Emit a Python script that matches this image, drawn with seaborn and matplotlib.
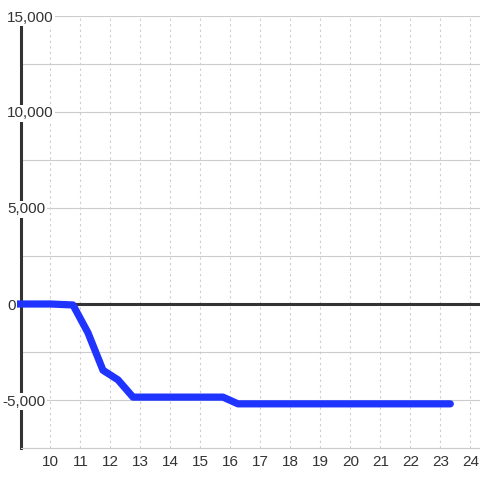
import matplotlib
matplotlib.use("Agg")
import matplotlib.pyplot as plt
import matplotlib.transforms as mtransforms
import seaborn as sns
from matplotlib.ticker import MultipleLocator

# data
hours = [8.88, 10.0, 10.75, 11.25, 11.75, 12.25, 12.75, 15.75, 16.25, 23.33]
values = [0, 0, -50, -1500, -3450, -3950, -4850, -4850, -5200, -5200]

x_ticks = list(range(10, 25))
y_labels = [15000, 10000, 5000, 0, -5000]

sns.set_theme(style="white")
plt.rcParams["font.family"] = ["Liberation Sans", "DejaVu Sans"]
plt.rcParams["axes.unicode_minus"] = False

fig = plt.figure(figsize=(4.8, 4.8), dpi=100)
ax = fig.add_axes([20.5 / 480, 32 / 480, 459.5 / 480, 432 / 480])

sns.lineplot(x=hours, y=values, sort=False, color="#1f35ff",
             linewidth=5.2, ax=ax, zorder=3, clip_on=False)
ax.axhline(0, color="#333333", linewidth=2.2, zorder=2)

ax.set_xlim(9, 24.32)
ax.set_ylim(-7500, 15000)

ax.set_xticks(x_ticks)
ax.yaxis.set_major_locator(MultipleLocator(2500))
ax.set_yticklabels([])

ax.grid(axis="y", which="major", color="#cccccc", linewidth=0.8)
ax.grid(axis="x", which="major", color="#cccccc", linewidth=0.8,
        linestyle=(0, (2, 3)))

for side in ["top", "right"]:
    ax.spines[side].set_visible(False)
ax.spines["bottom"].set_color("#cccccc")
ax.spines["bottom"].set_linewidth(0.8)
ax.spines["left"].set_color("#333333")
ax.spines["left"].set_linewidth(2.2)

ax.tick_params(axis="x", length=0, pad=5, labelsize=11, labelcolor="#333333")
ax.tick_params(axis="y", length=0)

# y labels sit left-aligned over the axis line, on white boxes
trans = mtransforms.blended_transform_factory(fig.transFigure, ax.transData)
for v in y_labels:
    x0 = 7 / 480 if v >= 0 else 2 / 480
    ax.text(x0, v, f"{v:,.0f}", transform=trans, ha="left",
            va="center_baseline", fontsize=11, color="#333333", zorder=4,
            bbox=dict(facecolor="white", edgecolor="none", pad=1))

ax.set_xlabel("")
ax.set_ylabel("")

fig.savefig("out.png", dpi=100)
